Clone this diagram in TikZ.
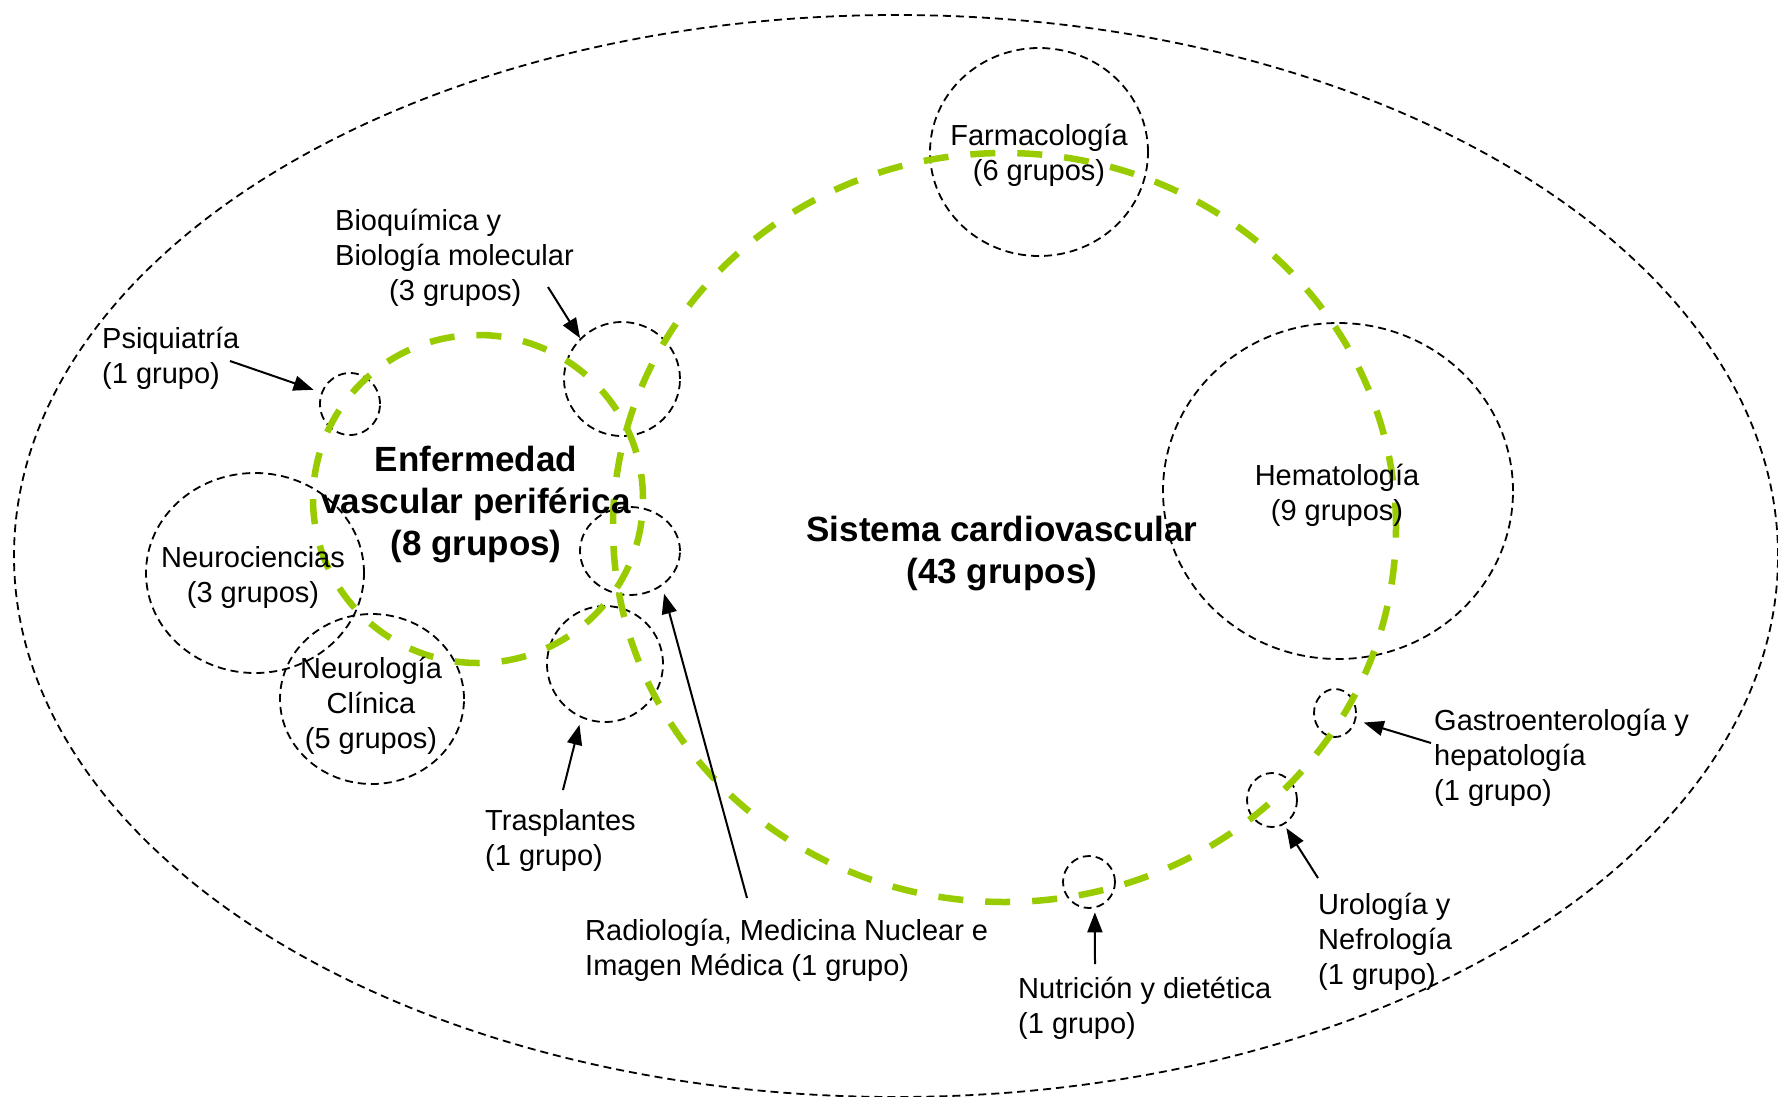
\documentclass[tikz,border=0pt]{standalone}
\usepackage{fontspec}
\setmainfont{Liberation Sans}
\usetikzlibrary{shapes.geometric,arrows.meta}
\definecolor{vgreen}{HTML}{99CC00}
\begin{document}
\begin{tikzpicture}[x=1pt,y=-1pt,
  lbl/.style={font=\fontsize{29}{35}\selectfont, inner sep=0pt, align=center},
  lbll/.style={font=\fontsize{29}{35}\selectfont, inner sep=0pt, align=left},
  big/.style={font=\fontsize{35}{42}\selectfont\bfseries, inner sep=0pt, align=center},
  dcirc/.style={draw=black, line width=1.8pt, dash pattern=on 8pt off 5pt, ellipse, inner sep=0pt, outer sep=0pt},
  gring/.style={draw=vgreen, line width=6.5pt, dash pattern=on 25pt off 22pt, ellipse, inner sep=0pt, outer sep=0pt},
  arr/.style={line width=2pt, -{Triangle[length=20pt,width=15pt]}}]
\useasboundingbox (0,0) rectangle (1778,1096);
\fill[white] (0,0) rectangle (1778,1096);
% outer ellipse
\node[dcirc, minimum width=1764pt, minimum height=1082pt] (outer) at (896,556) {};
% black dashed circles
\node[dcirc, minimum width=218pt, minimum height=208pt] (farm) at (1039,152) {};
\node[dcirc, minimum width=350pt, minimum height=336pt] (hem) at (1338,491) {};
\node[dcirc, minimum width=116pt, minimum height=114pt] (bio) at (622,379) {};
\node[dcirc, minimum width=60pt, minimum height=62pt] (psi) at (350,404) {};
\node[dcirc, minimum width=100pt, minimum height=88pt] (rad) at (630,551) {};
\node[dcirc, minimum width=116pt, minimum height=116pt] (tra) at (605,664) {};
\node[dcirc, minimum width=218pt, minimum height=200pt] (nci) at (255,573) {};
\node[dcirc, minimum width=184pt, minimum height=170pt] (ncl) at (372,699) {};
\node[dcirc, minimum width=42pt, minimum height=48pt] (gas) at (1335,713) {};
\node[dcirc, minimum width=50pt, minimum height=54pt] (uro) at (1272,800) {};
\node[dcirc, minimum width=52pt, minimum height=52pt] (nut) at (1089,882) {};
% green rings
\node[gring, minimum width=783pt, minimum height=749pt] (cv) at (1004.5,527.5) {};
\node[gring, minimum width=330pt, minimum height=328pt] (evp) at (478,499) {};
% texts
\node[lbl] (farmt) at (1039,155.5) {Farmacología\\(6 grupos)};
\node[lbll, anchor=west] (biot) at (335,257.5) {Bioquímica y\\Biología molecular\\\hspace*{54pt}(3 grupos)};
\node[lbll, anchor=west] (psit) at (102,358) {Psiquiatría\\(1 grupo)};
\node[big] (evpt) at (476,505) {Enfermedad\\vascular periférica\\(8 grupos)};
\node[big] (cvt) at (1002,553.5) {Sistema cardiovascular\\(43 grupos)};
\node[lbl] (hemt) at (1337,495.5) {Hematología\\(9 grupos)};
\node[lbl] (ncit) at (253,577.5) {Neurociencias\\(3 grupos)};
\node[lbl] (nclt) at (371,705.5) {Neurología\\Clínica\\(5 grupos)};
\node[lbll, anchor=west] (trat) at (485,840) {Trasplantes\\(1 grupo)};
\node[lbll, anchor=west] (radt) at (585,950) {Radiología, Medicina Nuclear e\\Imagen Médica (1 grupo)};
\node[lbll, anchor=west] (nutt) at (1018,1008) {Nutrición y dietética\\(1 grupo)};
\node[lbll, anchor=west] (urot) at (1318,941.5) {Urología y\\Nefrología\\(1 grupo)};
\node[lbll, anchor=west] (gast) at (1434,757.5) {Gastroenterología y\\hepatología\\(1 grupo)};
% arrows
\coordinate (psitail) at (230,361);
\coordinate (biotail) at (548,287);
\coordinate (tratail) at (563,790);
\coordinate (radtail) at (747,898);
\coordinate (nuttail) at (1095,964);
\coordinate (urotail) at (1318,878);
\coordinate (gastail) at (1431,743);
\draw[arr, shorten >=9pt] (psitail) -- (psi.158);
\draw[arr, shorten >=1pt] (biotail) -- (bio.136);
\draw[arr, shorten >=8pt] (tratail) -- (tra.246);
\draw[arr, shorten >=9pt] (radtail) -- (rad.313);
\draw[arr, shorten >=5pt] (nuttail) -- (nut.283);
\draw[arr, shorten >=5pt] (urotail) -- (uro.296);
\draw[arr, shorten >=9pt] (gastail) -- (gas.341);
\end{tikzpicture}
\end{document}
